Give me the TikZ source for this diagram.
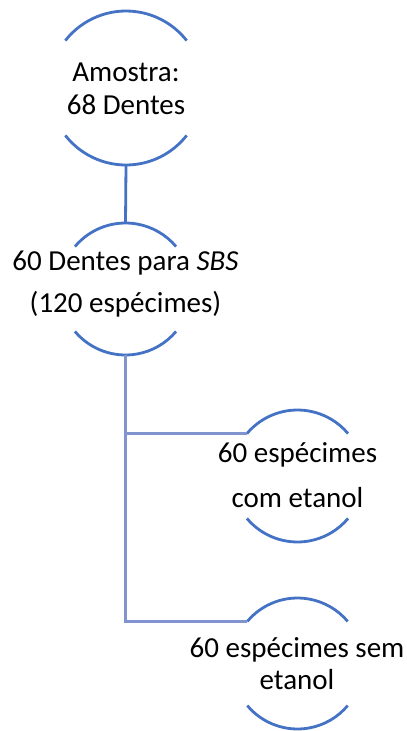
\documentclass[tikz,border=0pt]{standalone}
\usepackage{fontspec}
\setmainfont{Carlito}
\usetikzlibrary{calc}
\definecolor{arcblue}{HTML}{4472C4}
\definecolor{linkblue}{HTML}{8294D0}
\begin{document}
\begin{tikzpicture}[x=1pt,y=-1pt,
  arcline/.style={draw=arcblue,line width=2.8pt},
  linkline/.style={draw=linkblue,line width=3pt},
  toplink/.style={draw=arcblue,line width=2.8pt},
  lbl/.style={align=center,inner sep=0pt,text=black}]
\useasboundingbox (0,0) rectangle (407,731);
% circle centres
\coordinate (c1) at (126,88);
\coordinate (c2) at (125.5,289);
\coordinate (c3) at (297.5,476);
\coordinate (c4) at (297.5,663.5);
% arcs
\draw[arcline] (c1) ++(142:77pt) arc[start angle=142,end angle=38,radius=77pt];
\draw[arcline] (c1) ++(218:77pt) arc[start angle=218,end angle=322,radius=77pt];
\draw[arcline] (c2) ++(140:66pt) arc[start angle=140,end angle=40,radius=66pt];
\draw[arcline] (c2) ++(220:66pt) arc[start angle=220,end angle=320,radius=66pt];
\draw[arcline] (c3) ++(140:66pt) arc[start angle=140,end angle=40,radius=66pt];
\draw[arcline] (c3) ++(220:66pt) arc[start angle=220,end angle=320,radius=66pt];
\draw[arcline] (c4) ++(140:65.5pt) arc[start angle=140,end angle=40,radius=65.5pt];
\draw[arcline] (c4) ++(220:65.5pt) arc[start angle=220,end angle=320,radius=65.5pt];
% connection points
\coordinate (b1) at ($(c1)+(0,77)$);
\coordinate (t2) at ($(c2)+(0,-66)$);
\coordinate (b2) at ($(c2)+(0,66)$);
\coordinate (e3) at ($(c3)+(140:66pt)$);
\coordinate (e4) at ($(c4)+(140:65.5pt)$);
% texts
\node[lbl,font=\fontsize{29}{33}\selectfont] (n1) at (126,89) {Amostra:\\68 Dentes};
\node[lbl,font=\fontsize{29}{42}\selectfont] (n2) at (125.5,284) {60 Dentes para \textit{SBS}\\(120 espécimes)};
\node[lbl,font=\fontsize{29}{45}\selectfont] (n3) at (297.5,475.5) {60 espécimes\\com etanol};
\node[lbl,font=\fontsize{29}{32}\selectfont] (n4) at (297,664) {60 espécimes sem\\etanol};
% connectors
\draw[toplink] (b1) -- (t2);
\draw[linkline] (b2) |- (e4);
\draw[linkline] (b2 |- e3) -- (e3);
\end{tikzpicture}
\end{document}
